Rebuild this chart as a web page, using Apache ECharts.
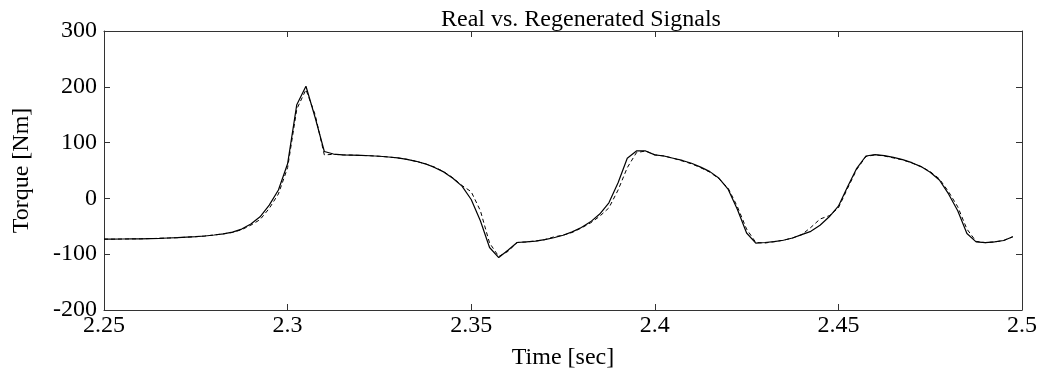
<!DOCTYPE html>
<html>
<head>
<meta charset="utf-8">
<script src="https://cdn.jsdelivr.net/npm/echarts@6/dist/echarts.min.js"></script>
<style>
html,body{margin:0;padding:0;background:#fff;}
#c{width:1043px;height:387px;}
</style>
</head>
<body>
<div id="c"></div>
<script>
// Time axis: samples every 0.0025 s from 2.25 to 2.4975
const tStart = 2.25;
const tStep = 0.0025;
const xTicks = ['2.25', '2.3', '2.35', '2.4', '2.45', '2.5'];
const yTicks = ['-200', '-100', '0', '100', '200', '300'];

const realSignal = [
  -73, -73, -72.8, -72.6, -72.4, -72, -71.6, -71, -70.4, -69.5,
  -68.6, -67.4, -65.6, -63.5, -60.5, -55, -46, -33, -12, 15,
  62, 168, 201, 145, 84, 79.5, 78, 77.6, 77, 76.4,
  75.5, 74.2, 72.5, 70, 66.5, 62, 55.5, 47.5, 36, 22,
  -2, -40, -88, -106, -93, -79, -78, -76.5, -74, -70.5,
  -66, -60, -52, -42, -28, -8, 28, 72, 85, 85,
  78, 76, 72, 68, 63, 56, 48, 36, 16, -20,
  -62, -80, -79, -77.5, -75, -71, -65, -59, -48, -33,
  -14, 21, 54, 76, 78.3, 76.5, 73.6, 69.5, 64, 57,
  47, 33, 8, -22, -63, -78, -79.3, -78, -75.5, -68.6
];

const regenSignal = [
  -73, -73, -72.8, -72.6, -72.4, -72, -71.6, -71, -70.4, -69.5,
  -68.6, -67.4, -65.6, -63.5, -61, -56, -48, -38, -18, 8,
  55, 160, 195, 150, 78, 79, 78, 77.6, 77, 76.4,
  75.5, 74.2, 72.5, 70, 66.5, 62, 56, 48, 37, 23,
  12, -22, -80, -104, -95, -79, -78, -76.5, -74, -69,
  -66, -61, -53, -44, -32, -17, 15, 55, 82, 85,
  78, 76, 72, 67, 62, 55, 47, 35, 18, -15,
  -55, -79, -80, -77.5, -75, -71, -65, -52, -37, -31,
  -17, 18, 52, 75, 78, 76, 72.5, 69, 63.5, 57,
  48, 35, 12, -15, -55, -77, -79.3, -78, -75.5, -68.6
];

function toPairs(vals) {
  return vals.map((v, i) => [+(tStart + i * tStep).toFixed(4), v]);
}

const chart = echarts.init(document.getElementById('c'), null, {renderer: 'canvas'});
const font = '"Liberation Serif", "Times New Roman", serif';
const axisCol = '#333';

chart.setOption({
  animation: false,
  backgroundColor: '#ffffff',
  title: {
    text: 'Real vs. Regenerated Signals',
    left: 436,
    top: 3,
    textStyle: {fontFamily: font, fontSize: 24, fontWeight: 'normal', color: '#000'}
  },
  grid: {left: 104, right: 21, top: 31, bottom: 77, containLabel: false},
  xAxis: [{
    type: 'value',
    min: 2.25, max: 2.5, interval: 0.05,
    name: 'Time [sec]',
    nameLocation: 'middle',
    nameGap: 36,
    nameTextStyle: {fontFamily: font, fontSize: 24, color: '#000'},
    axisLine: {show: true, onZero: false, lineStyle: {color: axisCol, width: 1}},
    axisTick: {show: true, inside: true, length: 6, lineStyle: {color: axisCol}},
    axisLabel: {
      fontFamily: font, fontSize: 24, color: '#000', margin: 4,
      formatter: (v) => { const s = (+v).toFixed(2).replace(/0+$/, '').replace(/\.$/, ''); return xTicks.indexOf(s) >= 0 ? s : ''; }
    },
    splitLine: {show: false}
  }, {
    type: 'value',
    position: 'top',
    min: 2.25, max: 2.5, interval: 0.05,
    axisLine: {show: true, onZero: false, lineStyle: {color: axisCol, width: 1}},
    axisTick: {show: true, inside: true, length: 6, lineStyle: {color: axisCol}},
    axisLabel: {show: false},
    splitLine: {show: false}
  }],
  yAxis: [{
    type: 'value',
    min: -200, max: 300, interval: 100,
    name: 'Torque [Nm]',
    nameLocation: 'middle',
    nameGap: 70,
    nameTextStyle: {fontFamily: font, fontSize: 24, color: '#000'},
    axisLine: {show: true, onZero: false, lineStyle: {color: axisCol, width: 1}},
    axisTick: {show: true, inside: true, length: 6, lineStyle: {color: axisCol}},
    axisLabel: {
      fontFamily: font, fontSize: 24, color: '#000', margin: 7,
      formatter: (v) => { const s = String(Math.round(v)); return yTicks.indexOf(s) >= 0 ? s : ''; }
    },
    splitLine: {show: false}
  }, {
    type: 'value',
    position: 'right',
    min: -200, max: 300, interval: 100,
    axisLine: {show: true, onZero: false, lineStyle: {color: axisCol, width: 1}},
    axisTick: {show: true, inside: true, length: 6, lineStyle: {color: axisCol}},
    axisLabel: {show: false},
    splitLine: {show: false}
  }],
  series: [{
    name: 'Real',
    type: 'line',
    data: toPairs(realSignal),
    showSymbol: false,
    lineStyle: {color: '#000', width: 1.2, type: 'solid'},
    z: 3
  }, {
    name: 'Regenerated',
    type: 'line',
    data: toPairs(regenSignal),
    showSymbol: false,
    lineStyle: {color: '#000', width: 1, type: [4, 3]},
    z: 2
  }]
});
</script>
</body>
</html>
